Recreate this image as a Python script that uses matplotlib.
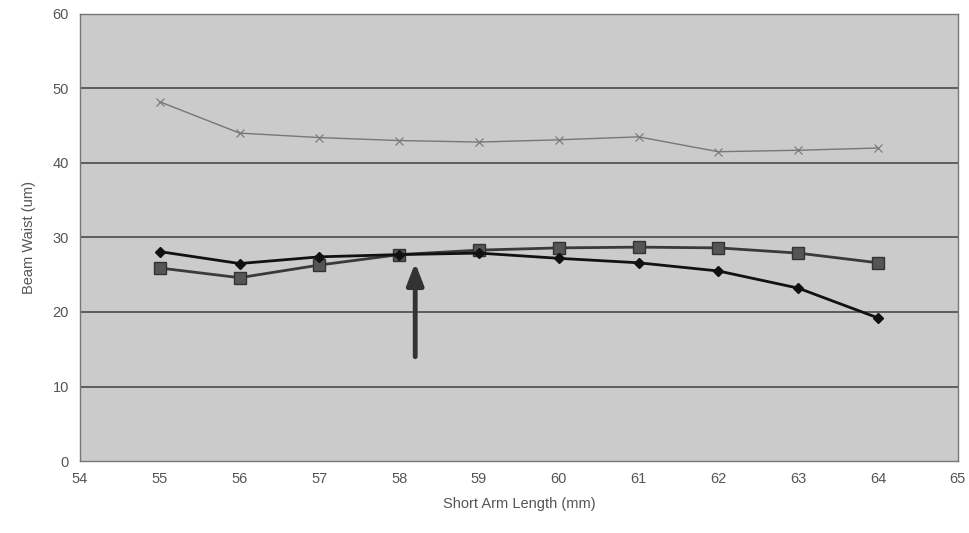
import matplotlib
matplotlib.use("Agg")
import matplotlib.pyplot as plt

plt.rcParams['font.family'] = ['Liberation Sans', 'DejaVu Sans']

# short arm length (mm)
arm_length = [55, 56, 57, 58, 59, 60, 61, 62, 63, 64]
# beam waist (um) for the three series
waist_diamond = [28.1, 26.5, 27.4, 27.7, 27.9, 27.2, 26.6, 25.5, 23.2, 19.2]
waist_square = [25.9, 24.6, 26.3, 27.7, 28.3, 28.6, 28.7, 28.6, 27.9, 26.6]
waist_cross = [48.2, 44.0, 43.4, 43.0, 42.8, 43.1, 43.5, 41.5, 41.7, 42.0]

x_ticks = list(range(54, 66))
y_ticks = [0, 10, 20, 30, 40, 50, 60]

# arrow marking the chosen arm length
arrow_x = 58.2
arrow_from = 14.0
arrow_to = 26.6

fig = plt.figure(figsize=(9.7, 5.33), dpi=100)
ax = fig.add_axes([0.0825, 0.135, 0.905, 0.839])
ax.set_facecolor('#cbcbcb')

for y in y_ticks[1:-1]:
    ax.axhline(y, color='#4a4a4a', lw=1.2, zorder=1)

ax.plot(arm_length, waist_cross, color='#777777', lw=1.0, marker='x',
        markersize=6, markeredgewidth=0.8, zorder=3)
ax.plot(arm_length, waist_square, color='#3a3a3a', lw=2.0, marker='s',
        markersize=8, markerfacecolor='#555555', markeredgecolor='#333333', zorder=4)
ax.plot(arm_length, waist_diamond, color='#111111', lw=2.0, marker='D',
        markersize=5.5, markerfacecolor='#111111', zorder=5)

ax.annotate('', xy=(arrow_x, arrow_to), xytext=(arrow_x, arrow_from),
            arrowprops=dict(arrowstyle='-|>,head_width=0.5,head_length=1.3',
                            color='#333333', lw=3.5, shrinkA=0, shrinkB=0),
            zorder=6)

ax.set_xlim(54, 65)
ax.set_ylim(0, 60)
ax.set_xticks(x_ticks)
ax.set_yticks(y_ticks)
ax.tick_params(length=0, labelsize=10.5, labelcolor='#555555', pad=8)
for s in ax.spines.values():
    s.set_color('#777777')
    s.set_linewidth(1.0)

ax.set_xlabel('Short Arm Length (mm)', fontsize=10.5, color='#555555', labelpad=8)
ax.set_ylabel('Beam Waist (um)', fontsize=10.5, color='#555555', labelpad=12)

fig.savefig('out.png', dpi=100)
